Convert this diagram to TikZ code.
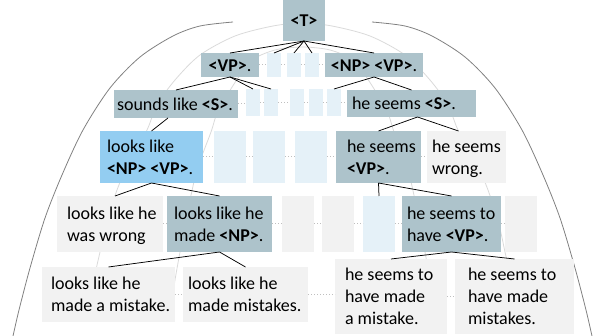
\documentclass[tikz,border=0pt]{standalone}
\usepackage{fontspec}
\setmainfont{Carlito}
\definecolor{slate}{HTML}{ADC3CB}
\definecolor{skyb}{HTML}{93CDF1}
\definecolor{paleb}{HTML}{E5F1F8}
\definecolor{paleg}{HTML}{F2F2F2}
\definecolor{dotgray}{HTML}{BFBFBF}
\definecolor{arcdark}{HTML}{808080}
\definecolor{arclight}{HTML}{DADADA}
\newcommand\sx{\rule[-4.5pt]{0pt}{22pt}}
\tikzset{
  bx/.style={inner sep=0pt, outer sep=0pt, draw=none},
  tx/.style={inner sep=0pt, outer sep=0pt, align=left, anchor=west, font=\fontsize{18}{22}\selectfont},
  tc/.style={inner sep=0pt, outer sep=0pt, align=center, font=\fontsize{18}{22}\selectfont},
  edge/.style={draw=black, line width=0.75pt},
  dotline/.style={draw=dotgray, line width=1pt, dash pattern=on 1pt off 2pt},
  darkarc/.style={draw=arcdark, line width=0.8pt},
  lightarc/.style={draw=arclight, line width=0.8pt}
}
\newcommand\bx[6]{\node[bx,fill=#2,minimum width={(#5)-(#3)},minimum height={(#6)-(#4)}] (#1) at ({((#3)+(#5))/2},{((#4)+(#6))/2}) {};}
\newcommand\tx[3]{\node[tx] (#1t) at ([xshift=#2]#1.west) {#3};}
\begin{document}
\begin{tikzpicture}[x=1pt,y=-1pt]
\useasboundingbox (0,0) rectangle (595,336);
% arcs
\draw[darkarc] plot[smooth] coordinates {(12,340) (13,336) (19,310) (30,268) (45,218) (62,175) (83,130) (110,88) (140,57) (173,36) (200,26) (233,22)};
\draw[darkarc] plot[smooth] coordinates {(593,340) (592,336) (586,310) (575,268) (560,218) (543,175) (522,130) (495,88) (465,57) (432,36) (405,26) (372,22)};
\draw[lightarc] plot[smooth] coordinates {(92,300) (95,275) (100,252) (106,225) (117,190) (130,160) (147,130) (157,105) (175,80) (200,55) (235,36) (273,26) (302.5,23) (332,26) (370,36) (405,55) (430,80) (448,105) (458,130) (475,160) (488,190) (499,225) (505,252) (510,275) (513,300)};
\draw[lightarc] plot[smooth] coordinates {(172,300) (175,280) (180,252) (188,210) (197,170) (211,132) (217,113) (226,97) (238,78) (252,60) (275,50) (302.5,47) (330,50) (353,60) (367,78) (379,97) (388,113) (394,132) (408,170) (417,210) (425,252) (430,280) (433,300)};
% row 0
\node[bx,fill=slate,minimum width=42,minimum height=41] (T) at (304,20.5) {};
\node[tc] (Tt) at (T) {\sx\textbf{<T>}};
% row 1
\bx{VP}{slate}{201}{53}{259}{77}
\node[tc] (VPt) at (VP) {\sx\textbf{<VP>}.};
\bx{ra}{paleb}{267}{53}{281}{77}
\bx{rb}{paleb}{287}{53}{301}{77}
\bx{rc}{paleb}{305}{53}{319}{77}
\bx{NPVP}{slate}{325}{53}{423}{77}
\node[tc] (NPVPt) at (NPVP) {\sx\textbf{<NP> <VP>}.};
% row 2
\bx{SL}{slate}{114}{90}{238}{118}
\tx{SL}{3}{\sx sounds like \textbf{<S>}.}
\bx{sa}{paleb}{246}{89}{260}{116}
\bx{sb}{paleb}{264}{89}{278}{116}
\bx{sc}{paleb}{290}{89}{304}{116}
\bx{sd}{paleb}{309}{89}{323}{116}
\bx{se}{paleb}{327}{89}{341}{116}
\bx{HSS}{slate}{347}{90}{476}{117}
\tx{HSS}{5}{\sx he seems \textbf{<S>}.}
% row 3
\bx{LNV}{skyb}{100}{131}{203}{183}
\tx{LNV}{7}{\sx looks like\\\sx\textbf{<NP> <VP>}.}
\bx{ta}{paleb}{214}{131}{246}{183}
\bx{tb}{paleb}{253}{131}{285}{183}
\bx{tc}{paleb}{295}{131}{327}{183}
\bx{HSV}{slate}{336}{131}{421}{183}
\tx{HSV}{11}{\sx he seems\\\sx\textbf{<VP>}.}
\bx{HSW}{paleg}{427}{131}{506}{183}
\tx{HSW}{5}{\sx he seems\\\sx wrong.}
% row 4
\bx{LWW}{paleg}{57}{196}{163}{252}
\tx{LWW}{10}{\sx looks like he\\\sx was wrong}
\bx{LMN}{slate}{167}{196}{272}{252}
\tx{LMN}{7}{\sx looks like he\\\sx made \textbf{<NP>}.}
\bx{ua}{paleg}{282}{196}{314}{252}
\bx{ub}{paleg}{322}{196}{354}{252}
\bx{uc}{paleb}{363}{196}{395}{252}
\bx{HSTV}{slate}{402}{196}{501}{252}
\tx{HSTV}{5}{\sx he seems to\\\sx have \textbf{<VP>}.}
\bx{ud}{paleg}{505}{196}{537}{252}
% row 5
\bx{LMAM}{paleg}{42}{267}{175}{322}
\tx{LMAM}{9}{\sx looks like he\\\sx made a mistake.}
\bx{LMM}{paleg}{183}{267}{308}{322}
\tx{LMM}{5}{\sx looks like he\\\sx made mistakes.}
\bx{HMAM}{paleg}{335}{259}{447}{334}
\tx{HMAM}{10}{\sx he seems to\\\sx have made\\\sx a mistake.}
\bx{HMM}{paleg}{455}{259}{574}{334}
\tx{HMM}{13}{\sx he seems to\\\sx have made\\\sx mistakes.}
% dotted row links
\foreach \a/\b in {VP/ra,ra/rb,rb/rc,rc/NPVP,SL/sa,sa/sb,sb/sc,sc/sd,sd/se,se/HSS,LNV/ta,ta/tb,tb/tc,tc/HSV,HSV/HSW,LWW/LMN,LMN/ua,ua/ub,ub/uc,uc/HSTV,HSTV/ud,LMAM/LMM,LMM/HMAM,HMAM/HMM}
  \draw[dotline] (\a.east) -- (\a.east -| \b.west);
% tree edges
\foreach \c in {VP,ra,rb,rc,NPVP} \draw[edge] (T.south) -- (\c.north);
\foreach \c in {SL,sa,sb} \draw[edge] (VP.south) -- (\c.north);
\foreach \c in {se,HSS} \draw[edge] (NPVP.south) -- (\c.north);
\draw[edge] ([xshift=-8]SL.south) -- (LNV.north);
\draw[edge] ([xshift=6]HSS.south) -- (HSV.north);
\draw[edge] ([xshift=6]HSS.south) -- ([xshift=-8]HSW.north);
\draw[edge] (LNV.south) -- ([xshift=5]LWW.north);
\draw[edge] (LNV.south) -- (LMN.north);
\draw[edge] (HSV.south) -- (uc.north);
\draw[edge] (HSV.south) -- (HSTV.north);
\draw[edge] (LMN.south) -- (LMAM.north);
\draw[edge] (LMN.south) -- (LMM.north);
\draw[edge] (HSTV.south) -- (HMAM.north);
\draw[edge] (HSTV.south) -- (HMM.north);
\end{tikzpicture}
\end{document}
